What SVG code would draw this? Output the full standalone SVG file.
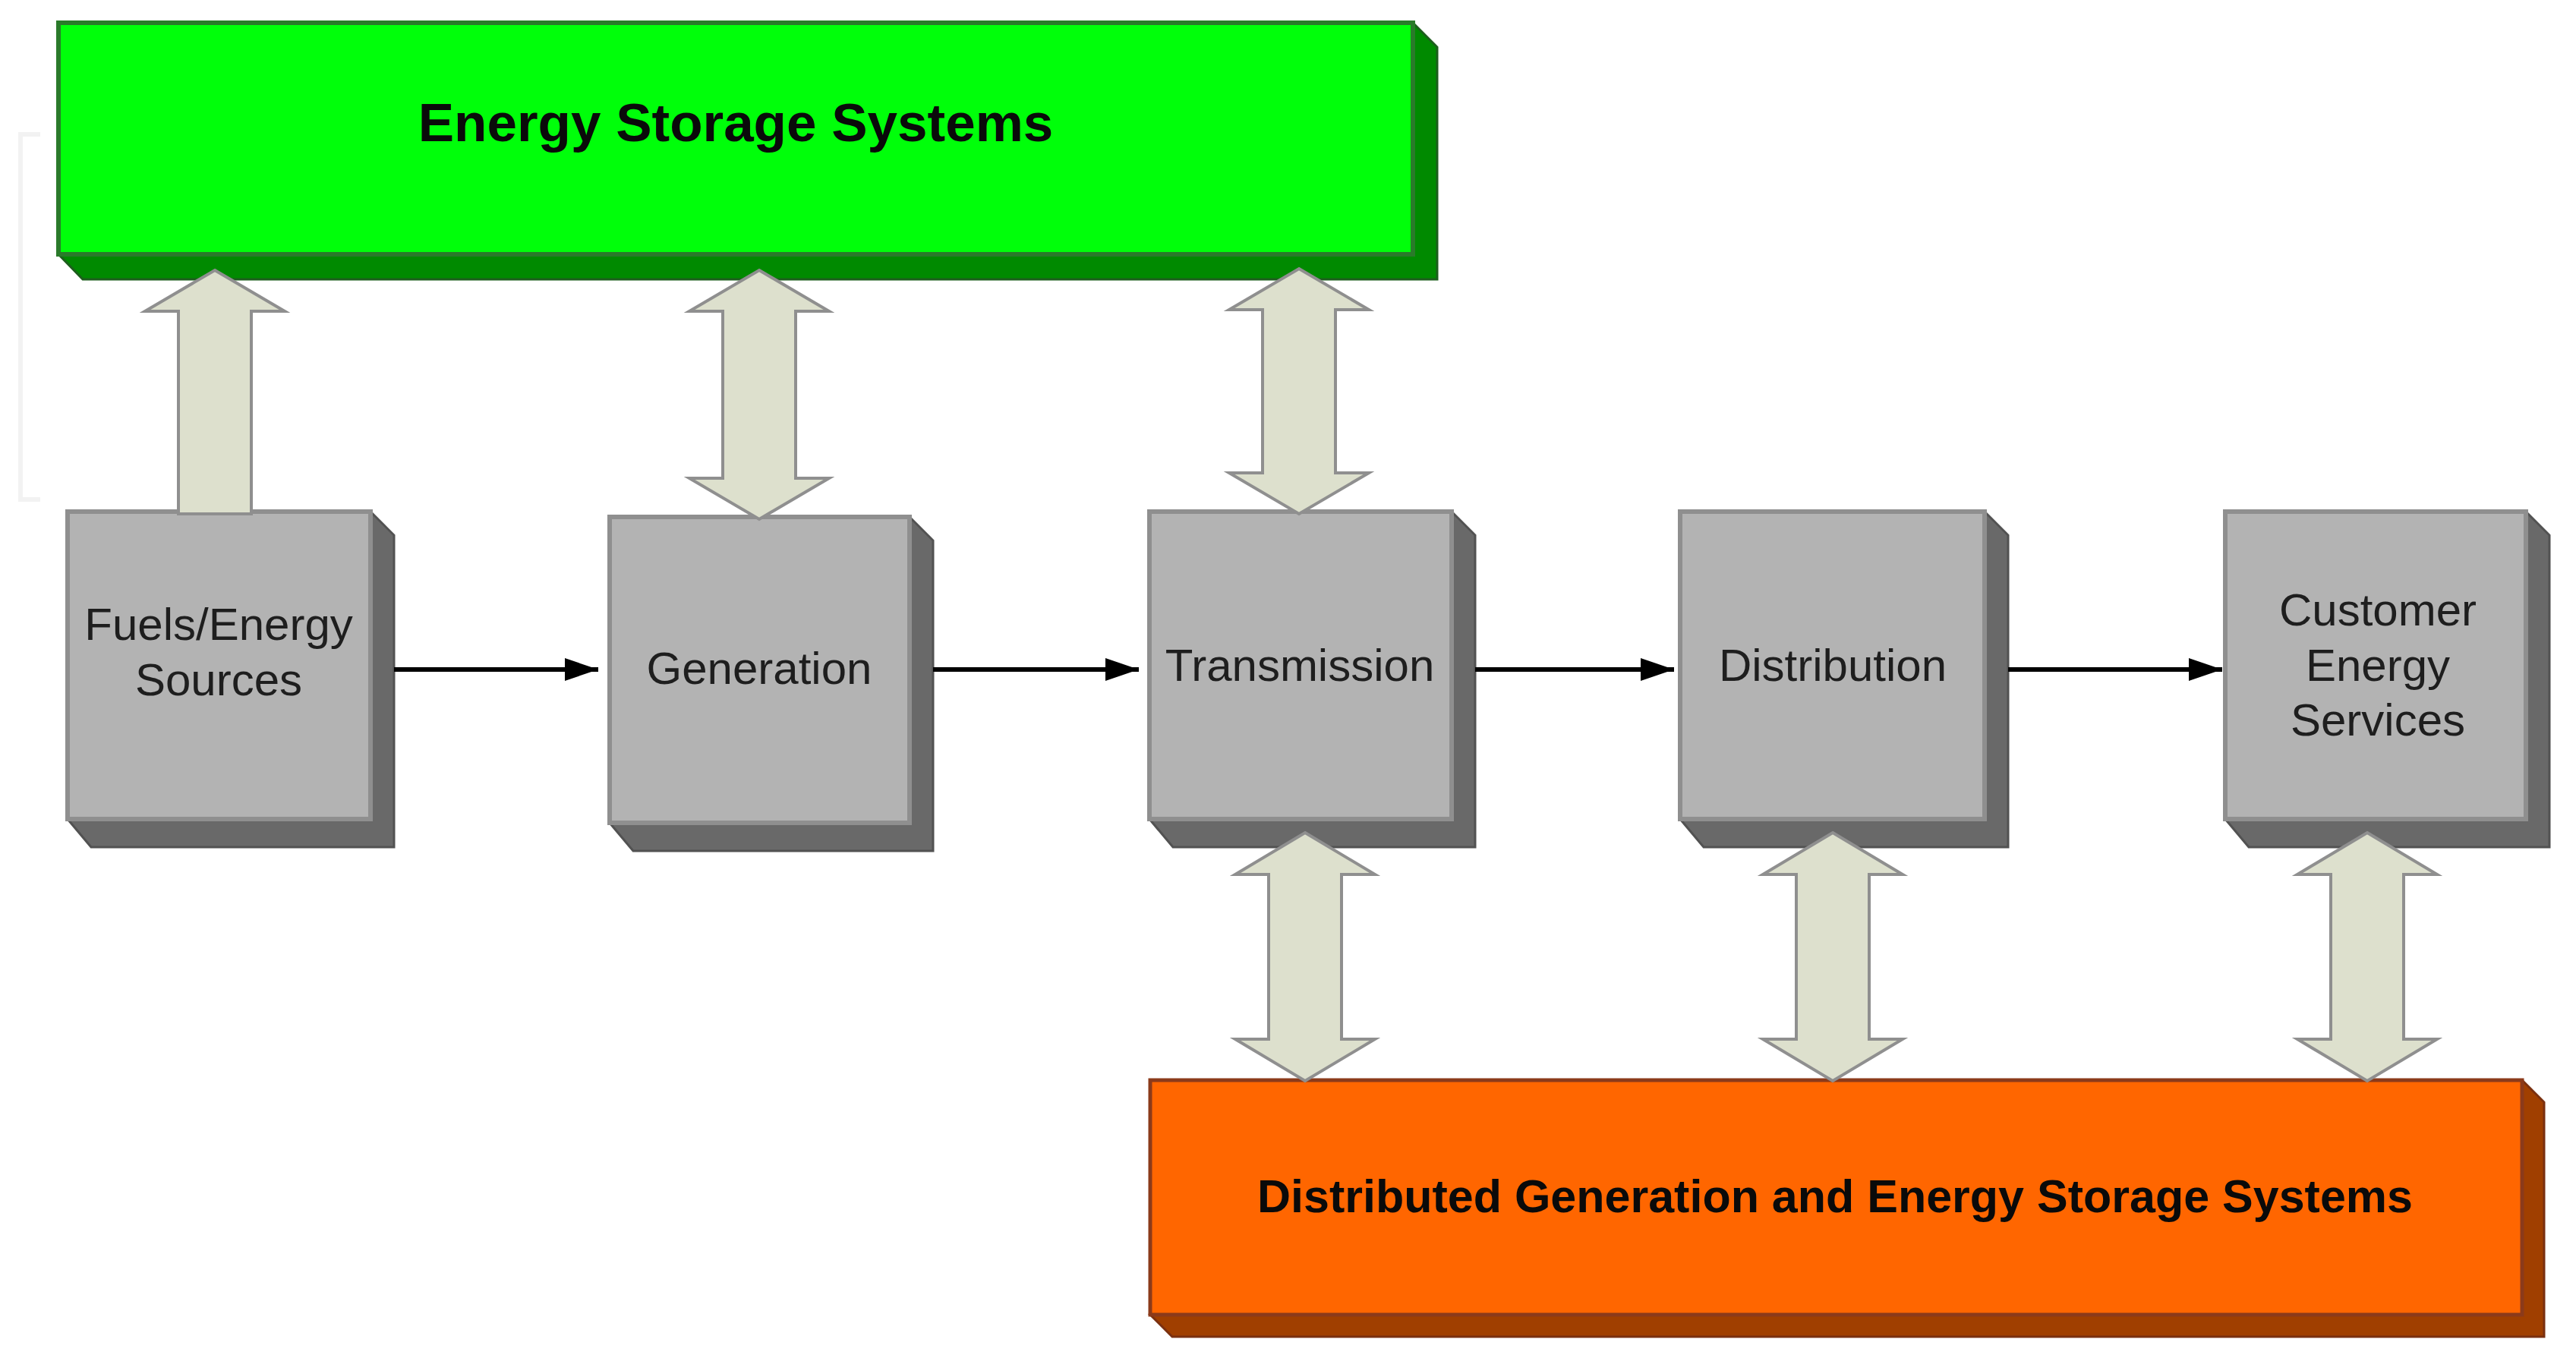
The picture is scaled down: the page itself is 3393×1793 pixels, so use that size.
<svg xmlns="http://www.w3.org/2000/svg" width="3393" height="1793" viewBox="0 0 3393 1793">
  <defs>
    <style>
      .face { fill: #b3b3b3; stroke: #8f8f8f; stroke-width: 6; }
      .ext { fill: #696969; stroke: #525252; stroke-width: 3; stroke-linejoin: miter; }
      .gface { fill: #00ff0a; stroke: #2a7a2a; stroke-width: 6; }
      .gext { fill: #008a00; stroke: #1d5e1d; stroke-width: 3; }
      .oface { fill: #ff6600; stroke: #8b3a1a; stroke-width: 5; }
      .oext { fill: #a03f00; stroke: #7a3010; stroke-width: 3; }
      .barrow { fill: #dde0cd; stroke: #8f8f8f; stroke-width: 4; stroke-linejoin: miter; }
      .flow { stroke: #000; stroke-width: 6; fill: none; marker-end: url(#ah); }
      .lbl { font-family: "Liberation Sans", Arial, sans-serif; font-size: 60px; fill: #1e1e1e; text-anchor: middle; }
      .title { font-family: "Liberation Sans", Arial, sans-serif; font-weight: bold; fill: #0a0a0a; text-anchor: middle; }
      .faint { stroke: #f2f2f2; stroke-width: 6; fill: none; }
    </style>
    <marker id="ah" markerUnits="userSpaceOnUse" markerWidth="44" markerHeight="30" refX="44" refY="15" orient="auto">
      <path d="M0,0 L44,15 L0,30 Z" fill="#000"/>
    </marker>
  </defs>
  <rect x="0" y="0" width="3393" height="1793" fill="#fff"/>
  <polyline class="faint" points="53,177 27,177 27,658 53,658"/>

  <g id="energy-storage-systems">
    <polygon class="gext" points="1861,30 1893,62 1893,368 109,368 77,335"/>
    <rect class="gface" x="77" y="30" width="1784" height="305"/>
    <text class="title" x="969" y="186" font-size="71">Energy Storage Systems</text>
  </g>

  <g id="fuels-energy-sources">
    <polygon class="ext" points="488,674 519,705 519,1116 120,1116 89,1079"/>
    <rect class="face" x="89" y="674" width="399" height="405"/>
    <text class="lbl" x="288" y="843">Fuels/Energy</text>
    <text class="lbl" x="288" y="916">Sources</text>
  </g>

  <g id="generation">
    <polygon class="ext" points="1198,681 1229,712 1229,1121 834,1121 803,1084"/>
    <rect class="face" x="803" y="681" width="395" height="403"/>
    <text class="lbl" x="1000" y="901">Generation</text>
  </g>

  <g id="transmission">
    <polygon class="ext" points="1912,674 1943,705 1943,1116 1545,1116 1514,1079"/>
    <rect class="face" x="1514" y="674" width="398" height="405"/>
    <text class="lbl" x="1712" y="897">Transmission</text>
  </g>

  <g id="distribution">
    <polygon class="ext" points="2614,674 2645,705 2645,1116 2244,1116 2213,1079"/>
    <rect class="face" x="2213" y="674" width="401" height="405"/>
    <text class="lbl" x="2414" y="897">Distribution</text>
  </g>

  <g id="customer-energy-services">
    <polygon class="ext" points="3327,674 3358,705 3358,1116 2962,1116 2931,1079"/>
    <rect class="face" x="2931" y="674" width="396" height="405"/>
    <text class="lbl" x="3132" y="824">Customer</text>
    <text class="lbl" x="3132" y="897">Energy</text>
    <text class="lbl" x="3132" y="969">Services</text>
  </g>

  <g id="distributed-generation-storage">
    <polygon class="oext" points="3322,1423 3351,1452 3351,1761 1544,1761 1515,1732"/>
    <rect class="oface" x="1515" y="1423" width="1807" height="309"/>
    <text class="title" x="2417" y="1597" font-size="61" fill="#1a0500">Distributed Generation and Energy Storage Systems</text>
  </g>

  <g id="connectors">
    <line class="flow" x1="519" y1="882" x2="788" y2="882"/>
    <line class="flow" x1="1229" y1="882" x2="1500" y2="882"/>
    <line class="flow" x1="1943" y1="882" x2="2205" y2="882"/>
    <line class="flow" x1="2645" y1="882" x2="2927" y2="882"/>

    <path class="barrow" d="M283,356 L375,410 L331,410 L331,677 L235,677 L235,410 L191,410 Z"/>
    <path class="barrow" d="M1000,356 L1092,410 L1048,410 L1048,630 L1092,630 L1000,684 L908,630 L952,630 L952,410 L908,410 Z"/>
    <path class="barrow" d="M1711,354 L1803,408 L1759,408 L1759,623 L1803,623 L1711,677 L1619,623 L1663,623 L1663,408 L1619,408 Z"/>

    <path class="barrow" d="M1719,1097 L1811,1152 L1767,1152 L1767,1369 L1811,1369 L1719,1424 L1627,1369 L1671,1369 L1671,1152 L1627,1152 Z"/>
    <path class="barrow" d="M2414,1097 L2506,1152 L2462,1152 L2462,1369 L2506,1369 L2414,1424 L2322,1369 L2366,1369 L2366,1152 L2322,1152 Z"/>
    <path class="barrow" d="M3118,1097 L3210,1152 L3166,1152 L3166,1369 L3210,1369 L3118,1424 L3026,1369 L3070,1369 L3070,1152 L3026,1152 Z"/>
  </g>
</svg>
